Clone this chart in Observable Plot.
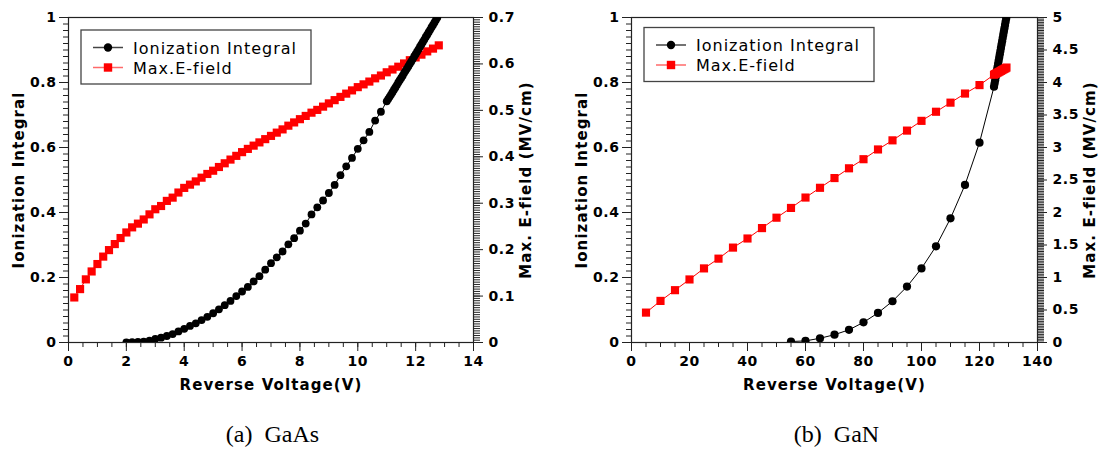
<!DOCTYPE html>
<html><head><meta charset="utf-8">
<script src="https://cdn.jsdelivr.net/npm/d3@7"></script>
<script src="https://cdn.jsdelivr.net/npm/@observablehq/plot@0.6"></script>
<style>
body{margin:0;background:#fff;}
#wrap{position:relative;width:1102px;height:450px;overflow:hidden;background:#fff;}
.panel{position:absolute;top:0;width:551px;height:450px;}
.panel svg.legend{position:absolute;left:0;top:0;pointer-events:none;}
.caption{position:absolute;top:422px;left:0;width:551px;line-height:24px;text-align:center;font-family:"Liberation Serif","Times New Roman",serif;font-size:24px;word-spacing:6px;color:#000;}
</style></head>
<body><div id="wrap"></div>
<script>
// ---------- Panel (a) GaAs ----------
const gaasIonVolt = [2.0,2.2,2.4,2.6,2.8,3.0,3.2,3.4,3.6,3.8,4.0,4.2,4.4,4.6,4.8,5.0,5.2,5.4,5.6,5.8,6.0,6.2,6.4,6.6,6.8,7.0,7.2,7.4,7.6,7.8,8.0,8.2,8.4,8.6,8.8,9.0,9.2,9.4,9.6,9.8,10.0,10.2,10.4,10.6,10.8,11.0,11.05,11.1,11.15,11.2,11.25,11.3,11.35,11.4,11.45,11.5,11.55,11.6,11.65,11.7,11.75,11.8,11.85,11.9,11.95,12.0,12.05,12.1,12.15,12.2,12.25,12.3,12.35,12.4,12.45,12.5,12.55,12.6,12.65,12.7,12.75];
const gaasIon = [0.000,0.001,0.002,0.003,0.006,0.011,0.015,0.020,0.026,0.034,0.042,0.051,0.059,0.069,0.079,0.090,0.102,0.115,0.128,0.143,0.157,0.171,0.188,0.204,0.224,0.244,0.262,0.280,0.302,0.321,0.344,0.366,0.394,0.416,0.437,0.460,0.485,0.515,0.542,0.568,0.596,0.622,0.648,0.683,0.710,0.742,0.749,0.756,0.763,0.770,0.778,0.785,0.792,0.800,0.807,0.814,0.821,0.829,0.836,0.843,0.850,0.858,0.865,0.872,0.880,0.887,0.895,0.902,0.910,0.917,0.925,0.932,0.940,0.947,0.955,0.962,0.970,0.977,0.985,0.992,1.000];
const gaasFieldVolt = [0.2,0.4,0.6,0.8,1.0,1.2,1.4,1.6,1.8,2.0,2.2,2.4,2.6,2.8,3.0,3.2,3.4,3.6,3.8,4.0,4.2,4.4,4.6,4.8,5.0,5.2,5.4,5.6,5.8,6.0,6.2,6.4,6.6,6.8,7.0,7.2,7.4,7.6,7.8,8.0,8.2,8.4,8.6,8.8,9.0,9.2,9.4,9.6,9.8,10.0,10.2,10.4,10.6,10.8,11.0,11.2,11.4,11.6,11.8,12.0,12.2,12.4,12.6,12.8];
const gaasField = [0.097,0.115,0.136,0.153,0.169,0.185,0.199,0.212,0.225,0.237,0.248,0.256,0.265,0.276,0.287,0.294,0.305,0.312,0.323,0.333,0.340,0.347,0.355,0.363,0.370,0.378,0.386,0.394,0.402,0.410,0.417,0.424,0.431,0.438,0.445,0.452,0.459,0.467,0.474,0.481,0.488,0.495,0.501,0.508,0.515,0.522,0.529,0.536,0.543,0.550,0.556,0.562,0.569,0.575,0.582,0.588,0.594,0.601,0.608,0.614,0.620,0.627,0.633,0.640];
const gaasXTicks = [0,2,4,6,8,10,12,14];
const gaasRightTicks = [0,0.1,0.2,0.3,0.4,0.5,0.6,0.7];

// ---------- Panel (b) GaN ----------
const ganIonVolt = [55,60,65,70,75,80,85,90,95,100,105,110,115,120,125,125.2,125.4,125.6,125.8,126.0,126.2,126.4,126.6,126.8,127.0,127.2,127.4,127.6,127.8,128.0,128.2,128.4,128.6,128.8,129.0,129.2,129.4];
const ganIon = [0.003,0.005,0.013,0.024,0.039,0.062,0.091,0.127,0.172,0.228,0.296,0.382,0.485,0.615,0.787,0.797,0.807,0.817,0.827,0.837,0.847,0.857,0.867,0.877,0.887,0.897,0.907,0.917,0.927,0.937,0.947,0.957,0.967,0.977,0.987,0.997,1.007];
const ganFieldVolt = [5,10,15,20,25,30,35,40,45,50,55,60,65,70,75,80,85,90,95,100,105,110,115,120,125,125.4,125.8,126.2,126.6,127.0,127.4,127.8,128.2,128.6,129.0,129.3];
const ganField = [0.46,0.64,0.805,0.97,1.14,1.29,1.46,1.60,1.76,1.92,2.07,2.23,2.38,2.53,2.68,2.82,2.97,3.11,3.26,3.41,3.55,3.69,3.83,3.96,4.12,4.13,4.14,4.15,4.16,4.17,4.18,4.19,4.20,4.21,4.22,4.23];
const ganXTicks = [0,20,40,60,80,100,120,140];
const ganRightTicks = [0,0.5,1,1.5,2,2.5,3,3.5,4,4.5,5];

// ---------- shared ----------
const leftTicks = [0,0.2,0.4,0.6,0.8,1];
const xTitle = "Reverse Voltage(V)";
const leftTitle = "Ionization Integral";
const rightTitle = "Max. E-field (MV/cm)";
const legendLabels = ["Ionization Integral", "Max.E-field"];

function makePanel(cfg) {
  const W = 551, H = 400;
  const ion = cfg.ionVolt.map((v, i) => ({v, y: cfg.ion[i]}));
  const field = cfg.fieldVolt.map((v, i) => ({v, e: cfg.field[i]}));
  const eMax = cfg.rightTicks[cfg.rightTicks.length - 1];
  const xMax = cfg.xTicks[cfg.xTicks.length - 1];
  const xMinor = d3.range(0, xMax + 1e-9, cfg.xMinorStep);
  const yMinor = d3.range(0, 1 + 1e-9, 0.02);
  const rMinor = d3.range(0, eMax + 1e-9, cfg.rightMinorStep).map(d => d / eMax);
  const rMajor = cfg.rightTicks.map(d => d / eMax);
  const fmtR = d => String(+(d * eMax).toFixed(3));
  const blank = () => "";
  const titleStyle = {fontSize: 15, fontWeight: "bold", fill: "#000", textAnchor: "middle", lineAnchor: "middle"};

  const ionMarks = [
    Plot.line(ion, {x: "v", y: "y", stroke: "#000", strokeWidth: 1, clip: true}),
    Plot.dot(ion, {x: "v", y: "y", r: cfg.dotR, fill: "#000", stroke: "none", clip: true})
  ];
  const fieldMarks = [
    Plot.line(field, {x: "v", y: d => d.e / eMax, stroke: "#ff0000", strokeWidth: 1}),
    Plot.dot(field, {x: "v", y: d => d.e / eMax, symbol: "square", r: cfg.sqR, fill: "#ff0000", stroke: "none"})
  ];

  const chart = Plot.plot({
    width: W, height: H,
    marginLeft: cfg.mL, marginRight: cfg.mR, marginTop: 17, marginBottom: H - 342,
    x: {domain: [0, xMax], label: null},
    y: {domain: [0, 1], label: null},
    style: {fontFamily: "'DejaVu Sans', Verdana, sans-serif", fontSize: "14px", fontWeight: "bold", color: "#000", background: "transparent", letterSpacing: "0.6px"},
    marks: [
      Plot.axisX(xMinor, {tickSize: 5, tickFormat: blank, label: null, stroke: "#222"}),
      Plot.axisX(cfg.xTicks, {tickSize: 9, tickPadding: 5, tickFormat: d => String(d), label: null, stroke: "#222"}),
      Plot.axisY(yMinor, {anchor: "left", tickSize: 5, tickFormat: blank, label: null, stroke: "#222"}),
      Plot.axisY(leftTicks, {anchor: "left", tickSize: 9, tickPadding: 3, tickFormat: d => String(d), label: null, stroke: "#222"}),
      Plot.axisY(rMinor, {anchor: "right", tickSize: 6, tickFormat: blank, label: null, stroke: "#222"}),
      Plot.axisY(rMajor, {anchor: "right", tickSize: 9, tickPadding: 6, tickFormat: fmtR, label: null, stroke: "#222"}),
      Plot.frame({stroke: "#222", strokeWidth: 1.2}),
      ...(cfg.blackOnTop ? [...fieldMarks, ...ionMarks] : [...ionMarks, ...fieldMarks]),
      Plot.text([xTitle], {text: d => d, frameAnchor: "bottom", dy: 43, ...titleStyle, letterSpacing: "1.1px"}),
      Plot.text([leftTitle], {text: d => d, frameAnchor: "left", dx: -49, rotate: -90, ...titleStyle}),
      Plot.text([rightTitle], {text: d => d, frameAnchor: "right", dx: 53, rotate: -90, ...titleStyle})
    ]
  });
  // wider tracking on the axis titles
  d3.select(chart).selectAll("text").filter(function() {
    const t = this.textContent;
    return t === xTitle || t === leftTitle || t === rightTitle;
  }).attr("letter-spacing", "1.1px");

  const div = document.createElement("div");
  div.className = "panel";
  div.style.left = cfg.left + "px";
  div.appendChild(chart);

  // legend box
  const L = cfg.legend;
  const svg = d3.create("svg").attr("class", "legend").attr("width", W).attr("height", 450);
  svg.append("rect").attr("x", L.x).attr("y", L.y).attr("width", 230).attr("height", 54)
    .attr("fill", "#fff").attr("stroke", "#444").attr("stroke-width", 1.3);
  const rows = [L.y + 17.5, L.y + 37.5];
  svg.append("line").attr("x1", L.x + 12).attr("x2", L.x + 42).attr("y1", rows[0]).attr("y2", rows[0]).attr("stroke", "#444").attr("stroke-width", 1.5);
  svg.append("circle").attr("cx", L.x + 27).attr("cy", rows[0]).attr("r", 4.2).attr("fill", "#000");
  svg.append("line").attr("x1", L.x + 12).attr("x2", L.x + 42).attr("y1", rows[1]).attr("y2", rows[1]).attr("stroke", "#ff6a6a").attr("stroke-width", 1.5);
  svg.append("rect").attr("x", L.x + 27 - 4.2).attr("y", rows[1] - 4.2).attr("width", 8.4).attr("height", 8.4).attr("fill", "#ff0000");
  legendLabels.forEach((t, i) => {
    svg.append("text").attr("x", L.x + 52).attr("y", rows[i] + 6)
      .attr("font-family", "'DejaVu Sans', Verdana, sans-serif").attr("font-size", 16)
      .attr("letter-spacing", "1px").attr("fill", "#000").text(t);
  });
  div.appendChild(svg.node());

  const cap = document.createElement("div");
  cap.className = "caption";
  cap.style.left = cfg.capShift + "px";
  cap.textContent = cfg.caption;
  div.appendChild(cap);
  document.getElementById("wrap").appendChild(div);
}

makePanel({
  left: 0, mL: 68, mR: 78,
  ionVolt: gaasIonVolt, ion: gaasIon, fieldVolt: gaasFieldVolt, field: gaasField,
  xTicks: gaasXTicks, xMinorStep: 0.5, rightTicks: gaasRightTicks, rightMinorStep: 0.005,
  dotR: 3.9, sqR: 4.6, blackOnTop: true,
  legend: {x: 81, y: 30}, caption: "(a) GaAs", capShift: -3
});
makePanel({
  left: 551, mL: 80, mR: 65,
  ionVolt: ganIonVolt, ion: ganIon, fieldVolt: ganFieldVolt, field: ganField,
  xTicks: ganXTicks, xMinorStep: 5, rightTicks: ganRightTicks, rightMinorStep: 0.025,
  dotR: 4.1, sqR: 4.6, blackOnTop: false,
  legend: {x: 93, y: 27.5}, caption: "(b) GaN", capShift: 10
});
</script>
</body></html>
